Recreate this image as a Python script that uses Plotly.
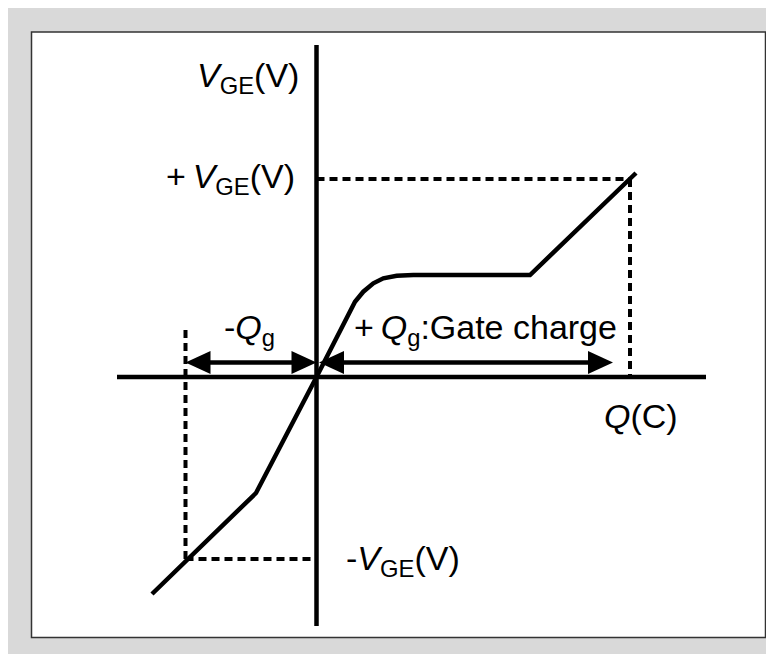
import plotly.graph_objects as go

# ---- data (chart units: Q = charge, V = gate voltage; origin at axis crossing) ----
curve_q = [-16.45, -6.05, 0.0, 3.35, 3.85, 4.68, 5.68, 6.68, 8.02, 9.68, 21.35, 31.95]
curve_v = [-21.7, -11.6, 0.0, 6.53, 7.53, 8.53, 9.37, 9.87, 10.13, 10.2, 10.2, 20.4]

axis_q_range = [-19.95, 38.95]   # horizontal axis extent
axis_v_range = [-24.9, 33.2]     # vertical axis extent

vge_pos = 19.8      # +VGE level
vge_neg = -18.2     # -VGE level
qg_pos = 31.35      # +Qg end
qg_neg = -13.1      # -Qg end
qg_neg_top = 4.7    # top of -Qg dashed guide
arrow_v = 1.45      # level of Qg arrows
qg_pos_arrow = [0.25, 29.65]
qg_neg_arrow = [-13.1, 0.0]

labels = [
    # text, q, v, xanchor
    ("<i>V</i><sub>GE</sub>(V)", -1.6, 30.0, "right"),
    ("+\u2009<i>V</i><sub>GE</sub>(V)", -2.0, 19.9, "right"),
    ("-<i>Q</i><sub>g</sub>", -6.75, 4.8, "center"),
    ("+\u2009<i>Q</i><sub>g</sub>:Gate charge", 3.5, 4.8, "left"),
    ("<i>Q</i>(C)", 28.5, -3.9, "left"),
    ("-<i>V</i><sub>GE</sub>(V)", 2.7, -18.3, "left"),
]

# ---- style ----
W, H = 774, 654
OX, OY = 308.5, 369.0   # pixel position of the origin within the figure
PX = 10.0               # pixels per unit (both axes)
x_range = [-OX / PX, (W - OX) / PX]
y_range = [-(H - OY) / PX, OY / PX]
BLACK = "#000000"
FONT = "Liberation Sans, Arial, sans-serif"
HEAD_L = 25 / PX
HEAD_HW = 11.5 / PX

fig = go.Figure()

def line(xs, ys, width=4, dash=None):
    fig.add_trace(go.Scatter(x=xs, y=ys, mode="lines",
                             line=dict(color=BLACK, width=width, dash=dash),
                             hoverinfo="skip"))

# axes
line(axis_q_range, [0, 0], 4.5)
line([0, 0], axis_v_range, 4.5)

# dashed guides
DASH = "8px,5px"
line([0, qg_pos], [vge_pos, vge_pos], 4, DASH)
line([qg_pos, qg_pos], [vge_pos, 0], 4, DASH)
line([qg_neg, qg_neg], [qg_neg_top, vge_neg], 4, DASH)
line([qg_neg, 0], [vge_neg, vge_neg], 4, DASH)

# curve
line(curve_q, curve_v, 4.5)

# arrows
def head(tip_q, tip_v, direction):
    base = tip_q - direction * HEAD_L
    fig.add_trace(go.Scatter(x=[tip_q, base, base, tip_q],
                             y=[tip_v, tip_v + HEAD_HW, tip_v - HEAD_HW, tip_v],
                             mode="lines", fill="toself", fillcolor=BLACK,
                             line=dict(color=BLACK, width=0), hoverinfo="skip"))

for a in (qg_neg_arrow, qg_pos_arrow):
    line([a[0] + HEAD_L * 0.5, a[1] - HEAD_L * 0.5], [arrow_v, arrow_v], 4.5)
    head(a[0], arrow_v, -1)
    head(a[1], arrow_v, 1)

for text, q, v, xa in labels:
    fig.add_annotation(x=q, y=v, text=text, showarrow=False, xanchor=xa,
                       yanchor="middle", font=dict(family=FONT, size=34, color=BLACK))

shapes = [
    dict(type="rect", xref="paper", yref="paper", x0=23.5 / W, x1=757.5 / W,
         y0=1 - 629.5 / H, y1=1 - 24 / H,
         fillcolor="#ffffff", line=dict(color="#333333", width=1.5), layer="below"),
]

fig.update_layout(
    width=W, height=H, margin=dict(l=0, r=0, t=0, b=0),
    paper_bgcolor="#d9d9d9", plot_bgcolor="rgba(0,0,0,0)",
    showlegend=False, shapes=shapes,
    xaxis=dict(visible=False, range=x_range, fixedrange=True),
    yaxis=dict(visible=False, range=y_range, fixedrange=True),
)

fig.write_html("out.html")
